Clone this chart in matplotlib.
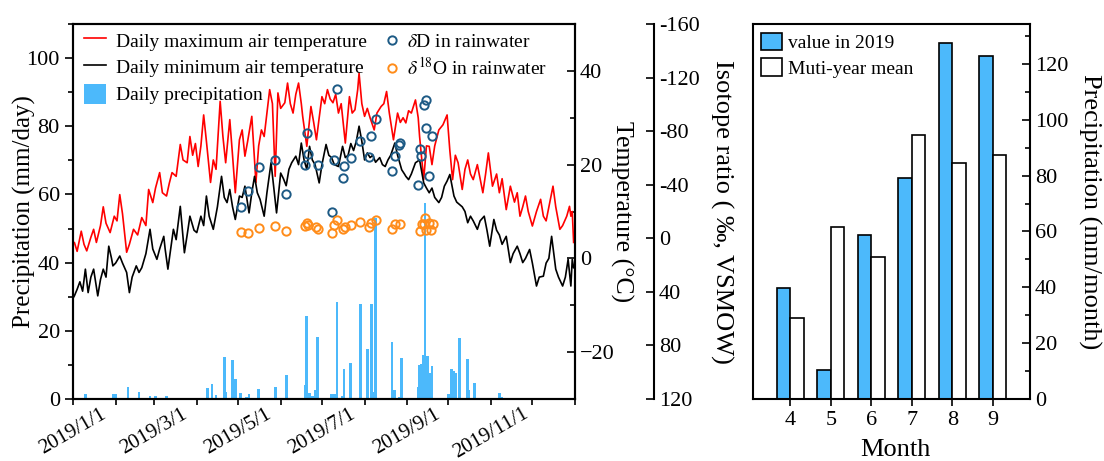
import numpy as np
import pandas as pd
import matplotlib
matplotlib.use('Agg')
import matplotlib.pyplot as plt
import matplotlib.dates as mdates
from matplotlib.ticker import MultipleLocator, FixedLocator, FuncFormatter
from matplotlib.lines import Line2D
from matplotlib.patches import Patch

plt.rcParams['font.family'] = ['Liberation Serif', 'DejaVu Serif']
plt.rcParams['mathtext.fontset'] = 'stix'

# ---------------- data (day index from 2019-01-01) ----------------
tmax_day = [0, 1, 3, 6, 8, 10, 13, 15, 17, 20, 22, 24, 27, 30, 32, 34, 36, 39, 41, 44,
            47, 50, 53, 55, 58, 60, 63, 65, 68, 70, 72, 75, 78, 80, 83, 85, 87, 89, 91, 93,
            95, 97, 100, 102, 104, 107, 109, 111, 114, 116, 118, 121, 123, 125, 127, 130, 133, 135, 137, 139,
            141, 143, 145, 147, 149, 151, 154, 156, 158, 160, 162, 164, 166, 167, 170, 173, 175, 177, 179, 181,
            183, 185, 187, 189, 191, 193, 195, 198, 201, 203, 205, 207, 208, 210, 212, 214, 216, 219, 221, 224,
            226, 228, 230, 233, 236, 238, 240, 242, 244, 246, 249, 251, 252, 254, 255, 257, 259, 261, 263, 266,
            269, 272, 274, 276, 278, 280, 283, 285, 287, 289, 291, 294, 296, 298, 300, 302, 305, 308, 310, 312,
            315, 318, 321, 323, 325, 327, 329, 331, 334, 337, 340, 342, 344, 346, 349, 351, 354, 356, 359, 361,
            362, 363, 364]
tmax_val = [3.0, 3.4, 1.5, 5.8, 3.0, 1.6, 4.5, 6.2, 3.4, 7.0, 11.0, 7.5, 5.5, 9.0, 8.0, 13.6, 9.5, 1.3, 3.0, 6.2,
            5.0, 8.7, 7.0, 14.7, 11.9, 15.0, 18.3, 14.0, 13.3, 16.0, 18.3, 17.5, 24.3, 21.0, 20.4, 26.0, 22.0, 24.5, 19.6, 24.0,
            30.6, 25.0, 16.2, 21.0, 19.0, 33.5, 26.0, 20.4, 29.6, 22.0, 14.0, 25.3, 27.4, 21.8, 25.0, 30.3, 16.2, 24.0, 27.4, 26.0,
            31.0, 36.0, 33.0, 17.5, 35.3, 32.0, 33.2, 37.4, 33.0, 31.0, 35.0, 37.4, 33.0, 30.3, 23.9, 32.4, 29.0, 25.3, 30.0, 34.5,
            33.0, 36.0, 34.0, 33.2, 35.0, 31.0, 33.0, 24.6, 34.5, 31.0, 31.7, 36.0, 39.5, 33.0, 30.3, 32.0, 30.0, 27.4, 31.0, 32.4,
            33.0, 35.6, 31.0, 25.3, 31.0, 29.0, 30.0, 28.9, 31.5, 31.0, 33.8, 30.0, 26.0, 20.0, 16.8, 24.0, 23.9, 20.0, 24.0, 27.4,
            28.5, 30.6, 23.0, 16.8, 22.0, 20.4, 14.7, 19.0, 21.0, 18.0, 16.8, 20.0, 17.0, 14.0, 18.0, 22.5, 15.4, 18.0, 14.0, 17.0,
            10.4, 15.4, 12.0, 14.0, 9.0, 11.0, 13.3, 10.0, 6.9, 10.0, 12.6, 9.0, 8.0, 11.0, 15.4, 11.0, 6.2, 7.0, 9.0, 11.1,
            9.0, 10.0, 3.4]

tmin_day = [0, 1, 3, 5, 7, 9, 11, 13, 15, 17, 18, 20, 22, 24, 26, 28, 29, 31, 34, 36,
            39, 41, 43, 46, 48, 50, 53, 56, 58, 61, 63, 66, 67, 69, 71, 73, 75, 78, 81, 83,
            85, 88, 90, 93, 95, 97, 99, 102, 105, 108, 110, 112, 114, 116, 118, 121, 123, 125, 128, 130,
            132, 134, 136, 139, 141, 144, 146, 148, 151, 153, 155, 157, 159, 162, 164, 166, 168, 170, 172, 174,
            176, 179, 181, 184, 186, 188, 190, 193, 196, 198, 200, 202, 204, 206, 208, 210, 212, 214, 216, 218,
            220, 223, 225, 227, 229, 231, 234, 236, 239, 241, 242, 244, 246, 249, 252, 255, 257, 259, 261, 263,
            266, 268, 270, 272, 274, 277, 279, 281, 283, 285, 287, 289, 291, 294, 296, 299, 301, 303, 306, 308,
            310, 312, 315, 318, 320, 323, 325, 327, 329, 332, 334, 337, 339, 342, 344, 346, 348, 350, 351, 353,
            356, 358, 360, 362, 363, 364]
tmin_val = [-8.5, -8.0, -6.6, -5.0, -7.0, -2.3, -7.3, -4.0, -2.3, -6.0, -8.0, -4.5, -2.3, -4.0, 2.6, 0.0, -1.6, -1.0, 0.5, -1.0,
            -3.0, -7.3, -4.0, -1.6, -3.0, -2.0, 1.0, 6.2, 2.0, -0.2, 2.0, 4.7, 2.0, -2.3, 2.0, 6.2, 4.0, 11.1, 1.2, 5.0,
            9.0, 6.0, 5.5, 9.0, 7.0, 13.3, 9.0, 6.2, 11.0, 17.5, 13.0, 11.9, 14.7, 11.0, 8.3, 13.3, 13.0, 15.4, 9.7, 14.0,
            17.5, 14.0, 12.6, 9.0, 14.0, 20.4, 15.0, 9.7, 18.2, 17.0, 15.5, 19.0, 20.4, 21.8, 20.0, 24.6, 21.0, 19.0, 23.9, 21.0,
            20.0, 16.1, 20.0, 24.3, 22.0, 21.5, 20.0, 19.6, 23.9, 21.5, 22.0, 24.5, 23.0, 25.0, 28.2, 25.0, 21.0, 22.5, 21.5, 22.0,
            20.5, 21.5, 20.0, 19.6, 21.0, 22.0, 24.6, 22.0, 18.9, 18.0, 17.5, 16.8, 18.0, 20.4, 21.0, 16.1, 15.0, 14.0, 15.0, 13.0,
            11.9, 13.0, 15.4, 16.5, 17.9, 13.3, 12.0, 11.5, 11.0, 10.0, 7.6, 9.0, 8.0, 6.2, 8.0, 9.0, 6.0, 2.6, 8.3, 6.0,
            5.0, 3.0, 4.7, -0.9, 1.0, 2.6, 1.0, -0.9, 0.0, 1.9, -1.0, -5.9, -4.0, -3.8, -1.0, 0.0, 4.7, 0.0, -2.3, -4.0,
            -5.9, -4.0, -0.2, -5.9, -0.2, -2.0]

prec_day = [9, 29, 31, 40, 48, 56, 60, 68, 98, 101, 104, 110, 111, 116, 118, 122, 126, 128, 135, 138,
            147, 155, 169, 170, 172, 174, 176, 178, 188, 190, 192, 196, 197, 202, 209, 214, 217, 219, 220, 232,
            234, 237, 239, 251, 252, 253, 255, 256, 258, 259, 261, 273, 275, 277, 278, 281, 287, 288, 292, 303,
            310, 312]
prec_val = [1.5, 1.5, 1.5, 3.5, 2.0, 0.8, 0.8, 0.8, 3.1, 4.3, 1.2, 12.2, 2.0, 11.5, 5.8, 1.8, 0.7, 1.4, 3.0, 0.4,
            3.4, 7.0, 4.1, 24.3, 1.9, 0.8, 2.5, 18.1, 1.5, 1.5, 28.5, 1.0, 8.7, 10.5, 27.8, 14.8, 27.8, 2.0, 53.0, 16.8,
            2.5, 0.7, 12.1, 3.6, 10.0, 10.3, 12.9, 57.4, 12.5, 7.5, 9.7, 1.5, 8.7, 8.3, 7.5, 17.8, 11.6, 2.5, 4.6, 0.3,
            1.7, 0.5]

dD_day = [122, 127, 135, 147, 155, 169, 170, 171, 178, 188, 190, 192, 196, 197, 202, 209, 215, 217, 220, 232,
          234, 237, 238, 251, 252, 253, 255, 257, 257, 259, 261]
dD_val = [-23.5, -35.1, -53.3, -58.7, -33.2, -55.0, -78.6, -63.2, -55.0, -19.8, -58.7, -111.4, -45.1, -53.7, -60.0, -72.9, -60.7, -76.1, -89.0, -50.0,
          -61.2, -69.9, -71.2, -39.6, -66.9, -61.2, -99.7, -103.4, -82.3, -46.8, -76.1]

d18O_day = [122, 127, 135, 147, 155, 169, 170, 171, 177, 178, 188, 190, 192, 196, 198, 202, 209, 215, 217, 220,
            232, 234, 238, 252, 254, 255, 256, 257, 259, 260, 262]
d18O_val = [-4.9, -4.1, -7.9, -9.0, -5.3, -9.0, -11.6, -9.8, -8.3, -7.1, -4.1, -9.6, -13.3, -6.6, -8.6, -9.6, -12.0, -8.3, -11.1, -13.3,
            -6.6, -10.3, -10.8, -5.3, -10.3, -10.3, -15.3, -6.1, -11.1, -6.1, -10.3]

months = [4, 5, 6, 7, 8, 9]
p2019 = [39.7, 10.4, 58.7, 79.3, 127.6, 123.0]
pmean = [28.9, 61.6, 51.0, 94.6, 84.6, 87.4]

date_labels_months = [1, 3, 5, 7, 9, 11]

# ---------------- figure ----------------
W, H = 1104, 461
fig = plt.figure(figsize=(W / 100, H / 100), dpi=100)

base = pd.Timestamp('2019-01-01')
end = pd.Timestamp('2020-01-01')


def to_dates(days):
    return base + pd.to_timedelta(np.asarray(days), unit='D')


def date_fmt(v, p):
    d = mdates.num2date(v)
    if d.year != 2019:
        return ''
    return f"{d.year}/{d.month}/{d.day}"


BAR_BLUE = '#4cb9fb'
DD_COL = '#1d5a85'
O18_COL = '#ff8c1a'

ax = fig.add_axes([73 / W, 62 / H, 502 / W, 375 / H])
ax.bar(to_dates(prec_day), prec_val, width=2.0, color=BAR_BLUE, zorder=1)
ax.set_ylim(0, 110)
ax.set_xlim(base, end)
ax.yaxis.set_major_locator(MultipleLocator(20))
ax.yaxis.set_minor_locator(MultipleLocator(10))
ax.xaxis.set_major_locator(mdates.MonthLocator(bymonth=date_labels_months))
ax.xaxis.set_minor_locator(mdates.MonthLocator(bymonth=[2, 4, 6, 8, 10, 12]))
ax.xaxis.set_major_formatter(FuncFormatter(date_fmt))
ax.tick_params(axis='y', which='major', direction='out', length=6, width=1.2, labelsize=16)
ax.tick_params(axis='y', which='minor', direction='out', length=3.5, width=1.2)
ax.tick_params(axis='x', which='both', direction='out', length=4, width=1.2, labelsize=15, pad=0)
for lab in ax.get_xticklabels():
    lab.set_rotation(30)
    lab.set_ha('center')
for s in ax.spines.values():
    s.set_linewidth(1.5)
ax.set_ylabel('Precipitation (mm/day)', fontsize=18, ha='center', va='center',
              rotation_mode='default')
ax.yaxis.set_label_coords(-0.0976, 0.5)

axT = ax.twinx()
axT.plot(to_dates(tmax_day), tmax_val, color='#ff0000', lw=1.2)
axT.plot(to_dates(tmin_day), tmin_val, color='black', lw=1.2)
axT.set_ylim(-30, 50)
axT.yaxis.set_major_locator(MultipleLocator(20))
axT.yaxis.set_minor_locator(MultipleLocator(10))
axT.tick_params(axis='y', which='major', direction='in', length=6, width=1.2, labelsize=16)
axT.tick_params(axis='y', which='minor', direction='in', length=3.5, width=1.2)
for s in axT.spines.values():
    s.set_linewidth(1.5)
axT.set_ylabel('Temperature (°C)', fontsize=18.5, rotation=270, ha='center', va='center',
               rotation_mode='default')
axT.yaxis.set_label_coords(1.0936, 0.5)

axI = ax.twinx()
axI.spines['right'].set_position(('axes', (654 - 73) / 502))
for k in ['top', 'bottom', 'left']:
    axI.spines[k].set_visible(False)
axI.spines['right'].set_linewidth(1.5)
axI.plot(to_dates(dD_day), dD_val, ls='none', marker='o', ms=6, mfc='none', mec=DD_COL, mew=1.4)
axI.plot(to_dates(d18O_day), d18O_val, ls='none', marker='o', ms=6, mfc='none', mec=O18_COL, mew=1.4)
axI.set_ylim(120, -160)
axI.yaxis.set_major_locator(FixedLocator(list(range(-160, 121, 40))))
axI.yaxis.set_major_formatter(FuncFormatter(lambda v, p: f"{int(v)}"))
axI.tick_params(axis='y', which='major', direction='in', length=6, width=1.2, labelsize=16)
axI.set_ylabel('Isotope ratio ( ‰, VSMOW)', fontsize=19, rotation=270, ha='center', va='center',
               rotation_mode='default')
axI.yaxis.set_label_coords(1.2928, 0.5)

h1 = [Line2D([], [], color='#ff0000', lw=1.2),
      Line2D([], [], color='black', lw=1.2),
      Patch(facecolor=BAR_BLUE, edgecolor='none')]
l1 = ['Daily maximum air temperature', 'Daily minimum air temperature', 'Daily precipitation']
leg1 = axI.legend(h1, l1, loc='upper left', bbox_to_anchor=(84 / W, 1 - 30 / H),
                  bbox_transform=fig.transFigure, frameon=False, fontsize=14,
                  handlelength=1.15, handleheight=1.2, handletextpad=0.5,
                  labelspacing=0.33, borderaxespad=0, borderpad=0)
axI.add_artist(leg1)
h2 = [Line2D([], [], ls='none', marker='o', ms=6, mfc='none', mec=DD_COL, mew=1.4),
      Line2D([], [], ls='none', marker='o', ms=6, mfc='none', mec=O18_COL, mew=1.4)]
l2 = [r'$\delta$D in rainwater', r'$\delta^{18}$O in rainwater']
axI.legend(h2, l2, loc='upper left', bbox_to_anchor=(384 / W, 1 - 33 / H),
           bbox_transform=fig.transFigure, frameon=False, fontsize=14,
           handlelength=0.8, handletextpad=0.4, labelspacing=0.3,
           borderaxespad=0, borderpad=0)

# ---------------- right panel ----------------
axR = fig.add_axes([753 / W, 62 / H, 277 / W, 375 / H])
m = np.array(months, dtype=float)
axR.bar(m - 0.165, p2019, width=0.33, color=BAR_BLUE, edgecolor='black', lw=1.2, label='value in 2019')
axR.bar(m + 0.165, pmean, width=0.33, color='white', edgecolor='black', lw=1.2, label='Muti-year mean')
axR.set_xlim(3.08, 9.92)
axR.set_ylim(0, 134.3)
axR.set_xticks(months)
axR.yaxis.tick_right()
axR.yaxis.set_label_position('right')
axR.yaxis.set_major_locator(MultipleLocator(20))
axR.yaxis.set_minor_locator(MultipleLocator(10))
axR.tick_params(axis='y', which='major', direction='in', length=6, width=1.2, labelsize=16,
                left=False, right=True)
axR.tick_params(axis='y', which='minor', direction='in', length=3.5, width=1.2,
                left=False, right=True)
axR.tick_params(axis='x', which='major', direction='out', length=5, width=1.2, labelsize=16)
for s in axR.spines.values():
    s.set_linewidth(1.5)
axR.set_xlabel('Month', fontsize=19, va='center')
axR.xaxis.set_label_coords(0.513, -0.135)
axR.set_ylabel('Precipitation (mm/month)', fontsize=19, rotation=270, ha='center', va='center',
               rotation_mode='default')
axR.yaxis.set_label_coords(1.2166, 0.5)
axR.legend(loc='upper left', bbox_to_anchor=(761 / W, 1 - 33 / H), bbox_transform=fig.transFigure,
           frameon=False, fontsize=14, handlelength=1.1, handleheight=1.0, handletextpad=0.3,
           labelspacing=0.3, borderaxespad=0, borderpad=0)

fig.savefig('out.png', dpi=100)
